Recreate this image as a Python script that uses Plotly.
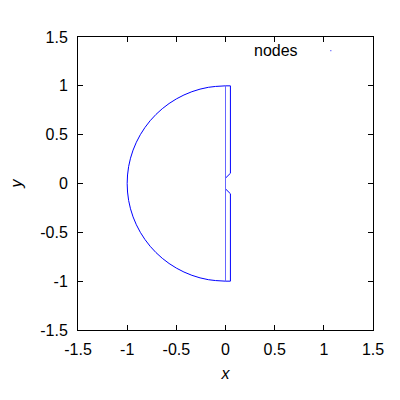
import plotly.graph_objects as go

# Node outline: semicircular arc (left)
arc_x = [0.0, -0.174, -0.342, -0.5, -0.643, -0.766, -0.866, -0.940, -0.985, -1.0,
         -0.985, -0.940, -0.866, -0.766, -0.643, -0.5, -0.342, -0.174, 0.0]
arc_y = [1.0, 0.985, 0.940, 0.866, 0.766, 0.643, 0.5, 0.342, 0.174, 0.0,
         -0.174, -0.342, -0.5, -0.643, -0.766, -0.866, -0.940, -0.985, -1.0]

# Thin strip on the right with a notch near y=0
strip_x = [0.0, 0.05, 0.05, 0.0, None, 0.0, 0.05, 0.05, 0.0]
strip_y = [1.0, 1.0, 0.105, 0.055, None, -0.055, -0.105, -1.0, -1.0]

# Inner edge of strip
inner_x = [0.0, 0.0]
inner_y = [1.0, -1.0]

tick_vals = [-1.5, -1, -0.5, 0, 0.5, 1, 1.5]
tick_text = ["-1.5", "-1", "-0.5", "0", "0.5", "1", "1.5"]

blue = "#0000ff"
fig = go.Figure()
fig.add_trace(go.Scatter(x=arc_x, y=arc_y, mode="lines", line=dict(color=blue, width=1, shape="spline"),
                         showlegend=False))
fig.add_trace(go.Scatter(x=strip_x, y=strip_y, mode="lines", line=dict(color=blue, width=1),
                         showlegend=False))
fig.add_trace(go.Scatter(x=inner_x, y=inner_y, mode="lines", line=dict(color="#6666ff", width=1),
                         showlegend=False))

font = dict(family="Liberation Sans, Arial, sans-serif", size=16, color="black")
axis_common = dict(
    showgrid=False, zeroline=False, showline=True, linecolor="black", linewidth=1,
    mirror="allticks", ticks="inside", ticklen=5, tickcolor="black",
    tickvals=tick_vals, ticktext=tick_text, tickfont=font, automargin=False,
)
fig.update_layout(
    width=400, height=400,
    margin=dict(l=70, r=35, t=29, b=78, pad=0),
    paper_bgcolor="white", plot_bgcolor="white",
    xaxis=dict(range=[-1.5, 1.5], title=dict(text="<i>x</i>", font=font, standoff=10),
               ticklabelstandoff=5, **axis_common),
    yaxis=dict(range=[-1.5, 1.5], title=dict(text="<i>y</i>", font=font, standoff=16),
               ticklabelstandoff=6, **axis_common),
    showlegend=False,
    annotations=[dict(text="nodes", xref="paper", yref="paper", x=(300 - 78) / 295, y=1 - (50.7 - 37) / 293,
                      xanchor="right", yanchor="middle", showarrow=False, font=font)],
    shapes=[dict(type="rect", xref="paper", yref="paper",
                 x0=(330 - 78) / 295, x1=(331.5 - 78) / 295,
                 y0=1 - (51.2 - 37) / 293, y1=1 - (50 - 37) / 293,
                 line=dict(width=0), fillcolor="#8888ff")],
)
fig.write_html("out.html")
